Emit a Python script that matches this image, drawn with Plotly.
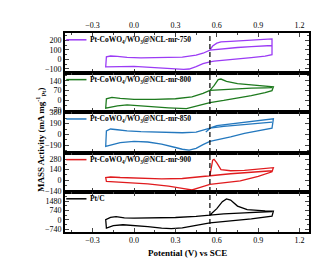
import plotly.graph_objects as go
from plotly.subplots import make_subplots

# ---------------- data ----------------
names = ["Pt-CoWO<sub>4</sub>/WO<sub>3</sub>@NCL-mr-750",
         "Pt-CoWO<sub>4</sub>/WO<sub>3</sub>@NCL-mr-800",
         "Pt-CoWO<sub>4</sub>/WO<sub>3</sub>@NCL-mr-850",
         "Pt-CoWO<sub>4</sub>/WO<sub>3</sub>@NCL-mr-900",
         "Pt/C"]
colors = ["#9B3BF5", "#1E7A1E", "#2478BE", "#E01B1E", "#000000"]

v750 = [0.55, 0.57, 0.60, 0.63, 0.70, 0.80, 0.90, 1.00, 1.00, 0.95, 0.85, 0.75, 0.65, 0.58, 0.55, 0.50,
        0.45, 0.40, 0.36, 0.30, 0.20, 0.10, 0.00, -0.10, -0.19, -0.205, -0.20, -0.17, -0.12, -0.05, 0.05,
        0.20, 0.35, 0.45, 0.50, 0.55, 0.65, 0.75, 0.85, 0.95, 1.00]
i750 = [100, 140, 170, 184, 190, 198, 206, 215, 50, 35, 20, 8, -8, -18, -25, -45,
        -75, -100, -105, -100, -88, -78, -72, -75, -80, -78, 28, 36, 32, 22, 16,
        18, 25, 45, 65, 98, 115, 125, 134, 142, 146]

v800 = [0.55, 0.58, 0.61, 0.63, 0.67, 0.75, 0.85, 0.95, 1.01, 1.00, 0.95, 0.85, 0.75, 0.65, 0.55, 0.45,
        0.38, 0.25, 0.15, 0.05, -0.05, -0.12, -0.18, -0.205, -0.20, -0.16, -0.10, 0.00, 0.15, 0.30, 0.42,
        0.50, 0.55, 0.65, 0.75, 0.85, 0.95, 1.00]
i800 = [72, 105, 148, 152, 135, 120, 110, 102, 96, 70, 55, 35, 15, 0, -15, -40,
        -58, -52, -45, -38, -32, -38, -50, -55, 12, 22, 15, 8, 8, 12, 25,
        50, 72, 78, 83, 87, 90, 92]

v850 = [0.52, 0.56, 0.60, 0.65, 0.75, 0.85, 0.95, 1.01, 1.00, 0.90, 0.80, 0.70, 0.60, 0.55, 0.50, 0.45,
        0.40, 0.35, 0.30, 0.20, 0.10, 0.00, -0.10, -0.18, -0.205, -0.20, -0.17, -0.12, -0.05, 0.05, 0.20,
        0.35, 0.45, 0.52, 0.55, 0.65, 0.75, 0.85, 0.95, 1.00]
i850 = [45, 120, 155, 170, 195, 220, 250, 272, 110, 70, 20, -40, -95, -120, -175, -240,
        -270, -255, -225, -165, -130, -120, -140, -185, -205, 60, 95, 82, 62, 48, 35,
        30, 40, 80, 110, 140, 165, 185, 205, 215]

v900 = [0.55, 0.56, 0.57, 0.58, 0.60, 0.63, 0.70, 0.80, 0.90, 1.01, 1.00, 0.90, 0.77, 0.65, 0.55, 0.48,
        0.42, 0.35, 0.25, 0.10, 0.00, -0.10, -0.20, -0.205, -0.17, -0.10, 0.00, 0.20, 0.35, 0.45, 0.55,
        0.70, 0.85, 1.00]
i900 = [60, 180, 265, 275, 230, 140, 125, 130, 148, 165, 110, 50, -9, -35, -55, -95,
        -130, -110, -80, -50, -40, -25, -15, 35, 42, 35, 28, 18, 22, 40, 65,
        85, 105, 125]

vpt = [0.55, 0.60, 0.64, 0.67, 0.70, 0.75, 0.82, 0.90, 0.95, 1.01, 1.00, 0.85, 0.70, 0.55, 0.45, 0.35,
       0.27, 0.20, 0.10, 0.00, -0.08, -0.15, -0.20, -0.205, -0.17, -0.13, -0.07, 0.00, 0.15, 0.30, 0.45,
       0.55, 0.65, 0.80, 0.95, 1.00]
ipt = [400, 900, 1450, 1670, 1580, 1100, 820, 740, 715, 700, 300, 80, -80, -230, -420, -620,
       -680, -640, -520, -420, -380, -450, -640, 20, 200, 270, 160, 150, 155, 195, 290,
       400, 480, 560, 640, 670]

potentials = [v750, v800, v850, v900, vpt]
currents = [i750, i800, i850, i900, ipt]

y_ranges = [[-142, 277], [-82, 195], [-320, 389], [-157, 360], [-954, 2218]]
y_ticks = [[-100, 0, 100, 200], [-70, 0, 70, 140], [-190, 0, 190, 380],
           [-140, 0, 140, 280], [-740, 0, 740, 1480]]
x_range = [-0.5, 1.268]
x_ticks = [-0.3, 0.0, 0.3, 0.6, 0.9, 1.2]
marker_potential = 0.55

# ---------------- figure ----------------
FONT = "Liberation Serif"
fig = make_subplots(rows=5, cols=1, shared_xaxes=True, vertical_spacing=0)

domains = [[0.799, 1.0], [0.603, 0.799], [0.397, 0.603], [0.201, 0.397], [0.0, 0.201]]

for k in range(5):
    r = k + 1
    fig.add_trace(go.Scatter(x=potentials[k], y=currents[k], mode="lines", name=names[k],
                             line=dict(color=colors[k], width=1.3), showlegend=False),
                  row=r, col=1)
    fig.update_yaxes(row=r, col=1, domain=domains[k], range=y_ranges[k],
                     tickvals=y_ticks[k], ticks="inside", ticklen=4, tickwidth=1.2,
                     minor=dict(ticks="inside", ticklen=2, tickwidth=1,
                                dtick=(y_ticks[k][1] - y_ticks[k][0]) / 2),
                     showline=True, linewidth=1.6, linecolor="black", mirror="allticks",
                     showgrid=False, zeroline=False,
                     tickfont=dict(family=FONT, size=8, color="black"))
    fig.update_xaxes(row=r, col=1, range=x_range, tickvals=x_ticks, tickformat=".1f",
                     ticks="inside", ticklen=4, tickwidth=1.2,
                     minor=dict(ticks="inside", ticklen=2, tickwidth=1, dtick=0.15, tick0=0),
                     showline=True, linewidth=1.6, linecolor="black", mirror="allticks",
                     showgrid=False, zeroline=False,
                     showticklabels=(r in (1, 5)),
                     tickfont=dict(family=FONT, size=8, color="black"))
    xa = "x" if r == 1 else f"x{r}"
    ya = "y" if r == 1 else f"y{r}"
    # legend-like label
    fig.add_shape(type="line", xref=xa + " domain", yref=ya + " domain",
                  x0=0.005, x1=0.088, y0=0.83, y1=0.83,
                  line=dict(color=colors[k], width=1.5))
    fig.add_annotation(xref=xa + " domain", yref=ya + " domain", x=0.095, y=0.83,
                       xanchor="left", yanchor="middle",
                       text=f"<b>{names[k]}</b>", showarrow=False,
                       font=dict(family=FONT, size=7.5, color="black"))
    fig.add_shape(type="line", xref=xa, yref=ya + " domain",
                  x0=marker_potential, x1=marker_potential, y0=0, y1=1,
                  line=dict(color="black", width=1.2, dash="5px,3px"))

fig.update_xaxes(row=1, col=1, side="top")

fig.add_annotation(xref="paper", yref="paper", x=-0.1, y=0.46, textangle=-90,
                   xanchor="center", yanchor="middle",
                   text="<b>MASS Activity (mA mg<sup>-1</sup><sub>Pt</sub>)</b>", showarrow=False,
                   font=dict(family=FONT, size=9, color="black"))
fig.add_annotation(xref="paper", yref="paper", x=0.5, y=-0.105, xanchor="center", yanchor="middle",
                   text="<b>Potential (V) vs SCE</b>", showarrow=False,
                   font=dict(family=FONT, size=9, color="black"))

fig.update_layout(width=325, height=258, margin=dict(l=57, r=24, t=25, b=34),
                  paper_bgcolor="white", plot_bgcolor="white", showlegend=False,
                  font=dict(family=FONT, color="black"))

fig.write_html("out.html")
